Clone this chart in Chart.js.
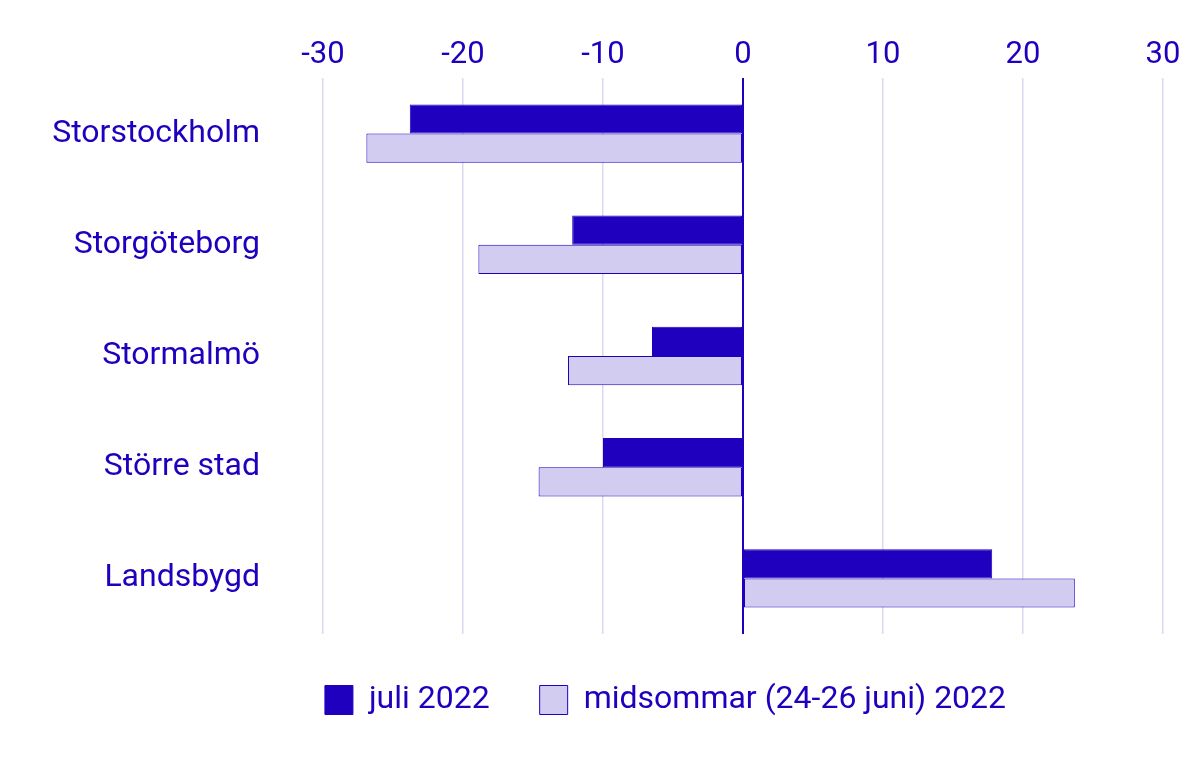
<!DOCTYPE html>
<html>
<head>
    <title>Förändring per region</title>
    <script src="https://cdn.jsdelivr.net/npm/chart.js"></script>
    <style>
        body { margin: 0; background: #fff; }
        .chart-container { width: 1200px; height: 773px; }
    </style>
</head>
<body>
    <div class="chart-container">
        <canvas id="region-chart"></canvas>
    </div>

    <script>
        const categories = ['Storstockholm', 'Storgöteborg', 'Stormalmö', 'Större stad', 'Landsbygd'];
        const juliValues = [-23.8, -12.2, -6.5, -10.0, 17.8];
        const midsommarValues = [-26.9, -18.9, -12.5, -14.6, 23.7];
        const seriesLabels = ['juli 2022', 'midsommar (24-26 juni) 2022'];

        const dark = '#1e00be';
        const light = '#d2ccf1';

        // flytta legenden lite åt höger, som i originalet
        const legendShift = {
            id: 'legendShift',
            afterLayout(chart) {
                chart.legend.left += 84;
                chart.legend.right += 84;
            }
        };

        const ctx = document.getElementById('region-chart').getContext('2d');
        new Chart(ctx, {
            type: 'bar',
            data: {
                labels: categories,
                datasets: [
                    {
                        label: seriesLabels[0],
                        data: juliValues,
                        backgroundColor: dark,
                        borderColor: dark,
                        borderWidth: 1,
                        borderSkipped: false
                    },
                    {
                        label: seriesLabels[1],
                        data: midsommarValues,
                        backgroundColor: light,
                        borderColor: dark,
                        borderWidth: 1,
                        borderSkipped: false
                    }
                ]
            },
            options: {
                indexAxis: 'y',
                responsive: true,
                maintainAspectRatio: false,
                animation: false,
                datasets: { bar: { barPercentage: 1, categoryPercentage: 0.525 } },
                layout: { padding: { left: 0, right: 37, top: 0, bottom: 47 } },
                plugins: {
                    tooltip: { enabled: false },
                    legend: {
                        position: 'bottom',
                        labels: {
                            color: dark,
                            font: { family: 'Roboto', size: 32 },
                            boxWidth: 28,
                            boxHeight: 29,
                            padding: 50
                        }
                    }
                },
                scales: {
                    x: {
                        position: 'top',
                        min: -30,
                        max: 30,
                        ticks: {
                            stepSize: 10,
                            color: dark,
                            font: { family: 'Roboto', size: 31 },
                            padding: 4
                        },
                        grid: {
                            drawTicks: false,
                            color: c => c.tick && c.tick.value === 0 ? dark : '#dcd8f0',
                            lineWidth: c => c.tick && c.tick.value === 0 ? 2 : 1.5
                        },
                        border: { display: false },
                        afterFit: s => { s.height = 78; }
                    },
                    y: {
                        ticks: {
                            color: dark,
                            font: { family: 'Roboto', size: 32 },
                            padding: 63
                        },
                        grid: { display: false, drawTicks: false },
                        border: { display: false },
                        afterFit: s => {
                            s.width = 323;
                            // tick-padding ska inte skjuta ner ritytan
                            s.paddingTop = 0;
                            s.paddingBottom = 0;
                        }
                    }
                }
            },
            plugins: [legendShift]
        });
    </script>
</body>
</html>
